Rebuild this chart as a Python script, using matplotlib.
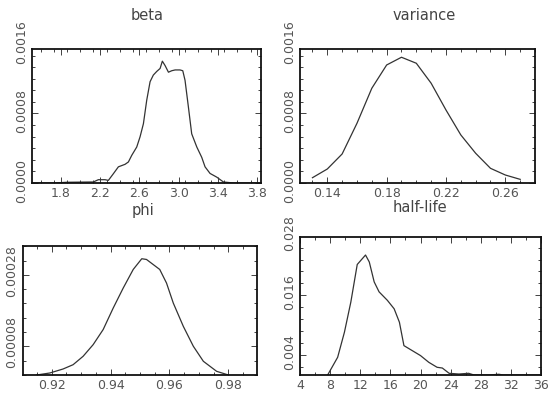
import matplotlib
matplotlib.use("Agg")
import matplotlib.pyplot as plt
import matplotlib.transforms as mtrans
from matplotlib.ticker import MultipleLocator

# ---------------- data ----------------
beta_x = [1.52, 1.725, 1.861, 2.132, 2.183, 2.251, 2.285, 2.336, 2.387, 2.455, 2.489,
          2.523, 2.574, 2.608, 2.642, 2.676, 2.710, 2.743, 2.778, 2.812, 2.835, 2.863,
          2.897, 2.931, 2.965, 3.015, 3.043, 3.066, 3.100, 3.134, 3.186, 3.236, 3.27,
          3.321, 3.389, 3.457, 3.559, 3.84]
beta_y = [0, 0, 0.0000084, 0.0000118, 0.000038, 0.000038, 0.00003, 0.000107, 0.000186,
          0.000215, 0.000242, 0.000318, 0.000414, 0.000532, 0.000682, 0.000954, 0.001166,
          0.001242, 0.001284, 0.001318, 0.001402, 0.001351, 0.001275, 0.001292, 0.001301,
          0.001301, 0.001292, 0.001182, 0.000878, 0.000566, 0.000414, 0.000296, 0.000186,
          0.00011, 0.0000676, 0.0000118, 0, 0]

var_x = [0.13, 0.14, 0.15, 0.16, 0.17, 0.18, 0.19, 0.20, 0.21, 0.22, 0.23, 0.24, 0.25, 0.26, 0.27]
var_y = [0.000061, 0.000161, 0.000334, 0.000687, 0.00109, 0.001358, 0.001447, 0.001378,
         0.001148, 0.00084, 0.000553, 0.000342, 0.000169, 0.000092, 0.000042]

phi_x = [0.9149, 0.9194, 0.9239, 0.9273, 0.9307, 0.9341, 0.9375, 0.9409, 0.9443,
         0.9477, 0.9506, 0.9522, 0.9567, 0.9590, 0.9613, 0.9647, 0.9681, 0.9715,
         0.9760, 0.9800]
phi_y = [0, 0.0000056, 0.0000168, 0.0000288, 0.0000523, 0.0000848, 0.000127, 0.000187,
         0.000243, 0.000295, 0.000325, 0.000323, 0.000295, 0.000257, 0.000201,
         0.000136, 0.0000803, 0.0000383, 0.0000103, 0]

hl_x = [7.67, 9.0, 9.9, 10.75, 11.6, 12.7, 13.2, 13.85, 14.5, 15.6, 16.5, 17.2, 17.8,
        18.9, 20.0, 21.1, 22.2, 22.9, 23.8, 25.1, 26.4, 27.1, 29.1, 30.4, 31.0, 36.0]
hl_y = [0, 0.00356, 0.0086, 0.01465, 0.0222, 0.0241, 0.0227, 0.0187, 0.0167, 0.0150,
        0.0133, 0.0106, 0.0059, 0.0049, 0.0039, 0.00255, 0.00155, 0.0014, 0.00034,
        0.0002, 0.00034, 0, 0, 0.00015, 0, 0]

titles = ["beta", "variance", "phi", "half-life"]
beta_xticks = [1.8, 2.2, 2.6, 3.0, 3.4, 3.8]
var_xticks = [0.14, 0.18, 0.22, 0.26]
phi_xticks = [0.92, 0.94, 0.96, 0.98]
hl_xticks = [4, 8, 12, 16, 20, 24, 28, 32, 36]
beta_xlab = ["1.8", "2.2", "2.6", "3.0", "3.4", "3.8"]
var_xlab = ["0.14", "0.18", "0.22", "0.26"]
phi_xlab = ["0.92", "0.94", "0.96", "0.98"]
hl_xlab = ["4", "8", "12", "16", "20", "24", "28", "32", "36"]
beta_yticks = [0.0, 0.0008, 0.0016]
var_yticks = [0.0, 0.0008, 0.0016]
phi_yticks = [0.00008, 0.00028]
hl_yticks = [0.004, 0.016, 0.028]
beta_ylab = ["0.0000", "0.0008", "0.0016"]
var_ylab = ["0.0000", "0.0008", "0.0016"]
phi_ylab = ["0.00008", "0.00028"]
hl_ylab = ["0.004", "0.016", "0.028"]

# ---------------- figure ----------------
W, H = 548, 393
fig = plt.figure(figsize=(W / 100, H / 100), dpi=100)
fig.patch.set_facecolor("white")

def rect(l, r, t, b):
    return [l / W, 1 - b / H, (r - l) / W, (b - t) / H]

panels = [
    dict(pos=rect(32, 261, 49, 183), x=beta_x, y=beta_y, xlim=(1.507, 3.84), ylim=(0, 0.001542),
         xt=beta_xticks, xlab=beta_xlab, xminor=0.4 / 3,
         yt=beta_yticks, ylab=beta_ylab, yminor=(0.0008 / 6, 0.0), shift=2,
         title=titles[0], tx=147, ty=16),
    dict(pos=rect(300, 535, 49, 183), x=var_x, y=var_y, xlim=(0.1216, 0.280), ylim=(0, 0.001542),
         xt=var_xticks, xlab=var_xlab, xminor=0.01,
         yt=var_yticks, ylab=var_ylab, yminor=(0.0008 / 6, 0.0), shift=2,
         title=titles[1], tx=424, ty=16),
    dict(pos=rect(22.7, 256.7, 245.5, 375), x=phi_x, y=phi_y, xlim=(0.9102, 0.9896), ylim=(0, 0.000362),
         xt=phi_xticks, xlab=phi_xlab, xminor=0.005,
         yt=phi_yticks, ylab=phi_ylab, yminor=(0.00004, 0.0), shift=4,
         title=titles[2], tx=143, ty=210),
    dict(pos=rect(300, 541, 237, 375), x=hl_x, y=hl_y, xlim=(4, 36), ylim=(0, 0.02772),
         xt=hl_xticks, xlab=hl_xlab, xminor=2,
         yt=hl_yticks, ylab=hl_ylab, yminor=(0.0024, 0.004), shift=3,
         title=titles[3], tx=420, ty=208),
]

txt_color = "#555555"
fs = 9
for p in panels:
    ax = fig.add_axes(p["pos"])
    ax.plot(p["x"], p["y"], color="#333333", lw=0.9)
    ax.set_xlim(*p["xlim"])
    ax.set_ylim(*p["ylim"])
    ax.set_xticks(p["xt"])
    ax.set_xticklabels(p["xlab"])
    lo, hi = p["ylim"]
    inside = [(v, l) for v, l in zip(p["yt"], p["ylab"]) if lo <= v <= hi]
    outside = [(v, l) for v, l in zip(p["yt"], p["ylab"]) if not (lo <= v <= hi)]
    ax.set_yticks([v for v, _ in inside])
    ax.set_yticklabels([l for _, l in inside], rotation=90, va="center")
    ax.xaxis.set_minor_locator(MultipleLocator(p["xminor"]))
    ax.yaxis.set_minor_locator(MultipleLocator(p["yminor"][0], offset=p["yminor"][1]))
    ax.tick_params(which="both", direction="in", top=True, right=True,
                   labelsize=fs, labelcolor=txt_color, color="#222222", width=0.6, pad=3)
    ax.tick_params(which="major", length=4)
    ax.tick_params(which="minor", length=2)
    shift = mtrans.ScaledTranslation(0, p["shift"] / 100, fig.dpi_scale_trans)
    for lab in ax.get_yticklabels():
        lab.set_transform(lab.get_transform() + shift)
    # labels of ticks lying just beyond the axis range
    blend = mtrans.blended_transform_factory(ax.transAxes, ax.transData)
    off = mtrans.ScaledTranslation(-3 / 72, p["shift"] / 100, fig.dpi_scale_trans)
    for v, l in outside:
        ax.text(0, v, l, transform=blend + off, rotation=90, ha="right", va="center",
                fontsize=fs, color=txt_color, clip_on=False)
    for s in ax.spines.values():
        s.set_linewidth(1.3)
        s.set_color("#111111")
    fig.text(p["tx"] / W, 1 - p["ty"] / H, p["title"], ha="center", va="center",
             fontsize=10.5, color="#444444")

fig.savefig("out.png", dpi=100)
